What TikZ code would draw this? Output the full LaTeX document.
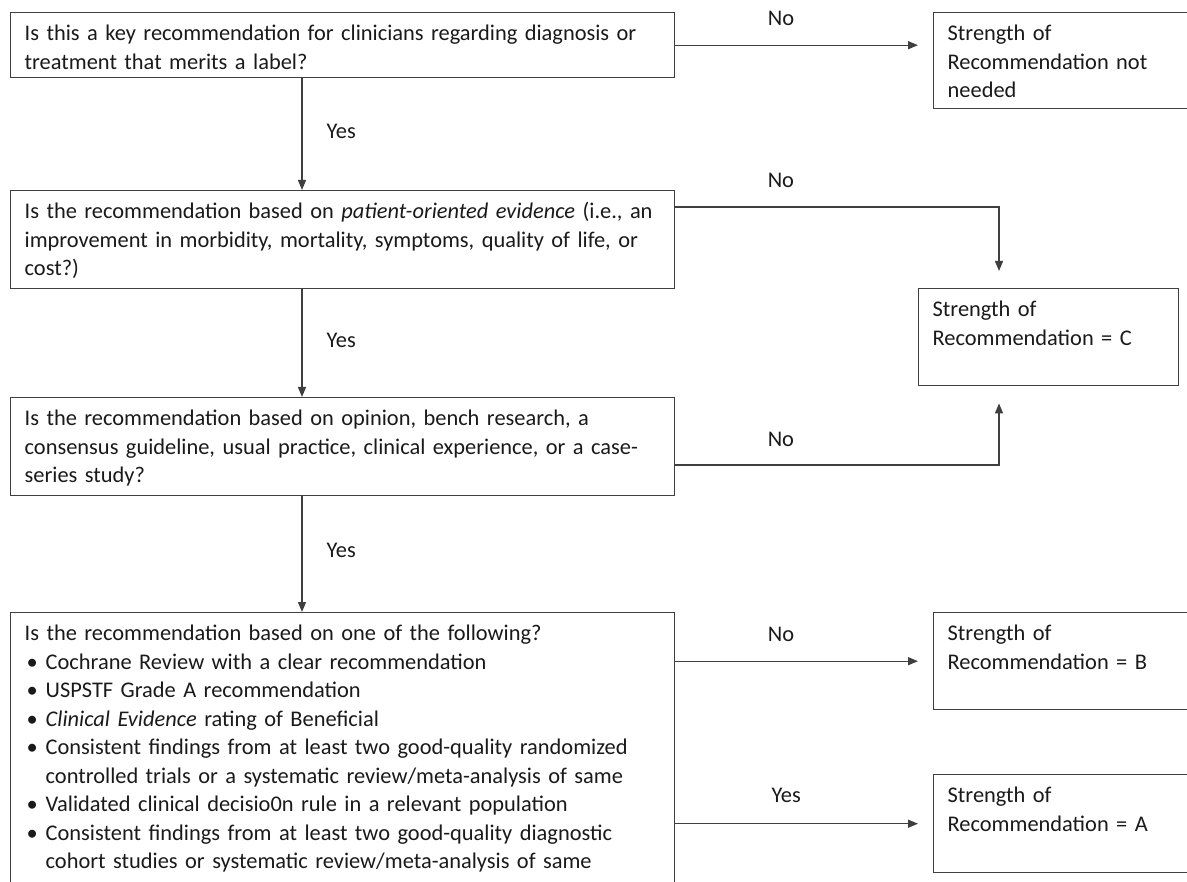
\documentclass[tikz,border=0pt]{standalone}
\usepackage{fontspec}
\setmainfont{Carlito}
\usetikzlibrary{arrows.meta}
\definecolor{linec}{HTML}{3F3F3F}
\definecolor{txtc}{HTML}{1A1A1A}
\newcommand{\tb}[2]{\parbox[t][#1][t]{\linewidth}{\raggedright\rule{0pt}{28pt}#2}}
\newcommand{\bul}{\makebox[21pt][l]{\hspace{2pt}\textbullet}}
\newcommand{\ind}{\hspace*{21pt}}
\newcommand{\mainsize}{\fontsize{22.4}{28.5}\selectfont}
\begin{document}
\begin{tikzpicture}[x=1pt,y=-1pt,
  box/.style={draw=linec, line width=1.4pt, anchor=north west, inner xsep=14pt, inner ysep=0pt, align=left, text=txtc, font=\mainsize},
  arr/.style={draw=linec, line width=1.3pt, -{Triangle[length=10pt,width=8pt]}},
  lbl/.style={font=\mainsize, text=txtc, inner sep=0pt}]
\useasboundingbox (0,0) rectangle (1187,882);
\clip (0,0) rectangle (1187,882);
\fill[white] (0,0) rectangle (1187,882);

% question boxes
\node[box, text width=636pt] (q1) at (10,12) {\tb{65pt}{Is this a key recommendation for clinicians regarding diagnosis or\\treatment that merits a label?}};
\node[box, text width=636pt] (q2) at (10,190) {\tb{98pt}{Is the recommendation based on \textit{patient-oriented evidence} (i.e., an\\improvement in morbidity, mortality, symptoms, quality of life, or\\cost?)}};
\node[box, text width=636pt] (q3) at (10,397) {\tb{98pt}{Is the recommendation based on opinion, bench research, a\\consensus guideline, usual practice, clinical experience, or a case-\\series study?}};
\node[box, text width=636pt] (q4) at (10,612) {\tb{300pt}{Is the recommendation based on one of the following?\\
\bul Cochrane Review with a clear recommendation\\
\bul USPSTF Grade A recommendation\\
\bul \textit{Clinical Evidence} rating of Beneficial\\
\bul Consistent findings from at least two good-quality randomized\\
\ind controlled trials or a systematic review/meta-analysis of same\\
\bul Validated clinical decisio0n rule in a relevant population\\
\bul Consistent findings from at least two good-quality diagnostic\\
\ind cohort studies or systematic review/meta-analysis of same}};

% result boxes
\node[box, text width=252pt] (nn) at (933,12) {\tb{96pt}{Strength of\\Recommendation not\\needed}};
\node[box, text width=232pt] (cc) at (918,288) {\tb{97pt}{Strength of\\Recommendation = C}};
\node[box, text width=252pt] (bb) at (933,612) {\tb{97pt}{Strength of\\Recommendation = B}};
\node[box, text width=252pt] (aa) at (933,774) {\tb{98pt}{Strength of\\Recommendation = A}};

% Yes arrows (vertical)
\draw[arr] ([xshift=292pt]q1.south west) -- node[lbl, anchor=west, xshift=24pt, yshift=3pt]{Yes} ([xshift=292pt]q2.north west);
\draw[arr] ([xshift=292pt]q2.south west) -- node[lbl, anchor=west, xshift=24pt, yshift=3pt]{Yes} ([xshift=292pt]q3.north west);
\draw[arr] ([xshift=292pt]q3.south west) -- node[lbl, anchor=west, xshift=24pt, yshift=4pt]{Yes} ([xshift=292pt]q4.north west);

% No arrows
\draw[arr, shorten >=15pt] (q1.east) -- node[lbl, pos=0.41, yshift=27pt]{No} (q1.east -| nn.west);
\draw[arr, shorten >=17pt] ([yshift=-17pt]q2.north east) -| node[lbl, pos=0.163, yshift=27pt]{No} ([xshift=81pt]cc.north west);
\draw[arr, shorten >=17pt] ([yshift=-68pt]q3.north east) -| node[lbl, pos=0.163, yshift=26pt]{No} ([xshift=81pt]cc.south west);
\draw[arr, shorten >=15pt] (bb.west -| q4.east) -- node[lbl, pos=0.41, yshift=27pt]{No} (bb.west);
\draw[arr, shorten >=15pt] (aa.west -| q4.east) -- node[lbl, pos=0.43, yshift=28pt]{Yes} (aa.west);
\end{tikzpicture}
\end{document}
